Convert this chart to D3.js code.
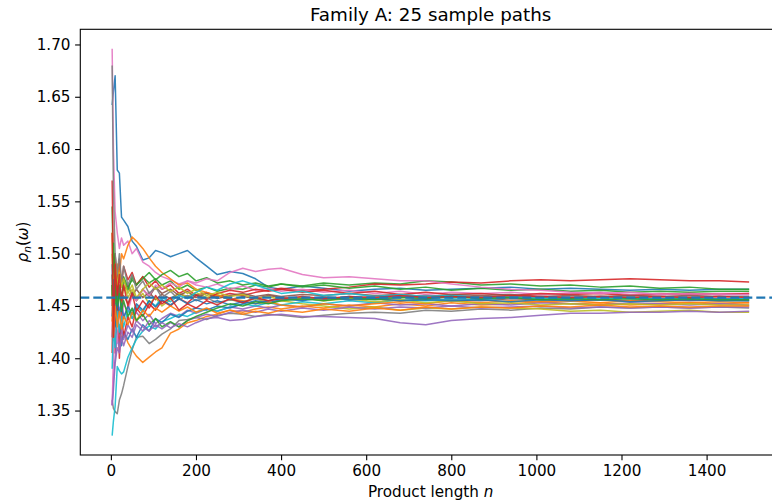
<!DOCTYPE html>
<html>
<head>
<meta charset="utf-8">
<script src="https://cdn.jsdelivr.net/npm/d3@7"></script>
<style>
  html, body { margin: 0; padding: 0; background: #fff; }
  svg { display: block; font-family: "DejaVu Sans", sans-serif; }
</style>
</head>
<body>
<svg id="chart" width="772" height="501"></svg>
<script>
// Product lengths n at which each sample path is recorded
const lengths = [3, 6, 10, 15, 20, 25, 30, 40, 50, 60, 75, 90, 105, 120, 140, 160, 180, 200, 225, 250, 280, 310, 340, 370, 400, 450, 500, 560, 620, 680, 740, 800, 870, 940, 1010, 1080, 1150, 1220, 1290, 1360, 1430, 1500];

// rho_n(omega) along 25 sample paths
const path1  = [1.642,1.655,1.670,1.580,1.577,1.535,1.532,1.526,1.512,1.507,1.494,1.496,1.503,1.501,1.497,1.500,1.503,1.496,1.488,1.480,1.483,1.481,1.476,1.468,1.466,1.469,1.467,1.464,1.466,1.467,1.465,1.466,1.467,1.468,1.466,1.467,1.466,1.465,1.466,1.465,1.466,1.466];
const path2  = [1.470,1.430,1.445,1.420,1.432,1.418,1.425,1.415,1.408,1.402,1.396,1.401,1.406,1.410,1.424,1.428,1.434,1.436,1.440,1.442,1.446,1.444,1.447,1.449,1.447,1.450,1.448,1.451,1.449,1.452,1.450,1.453,1.451,1.452,1.454,1.452,1.453,1.451,1.452,1.453,1.452,1.453];
const path3  = [1.545,1.470,1.500,1.455,1.485,1.470,1.478,1.468,1.475,1.470,1.478,1.472,1.476,1.470,1.474,1.466,1.470,1.465,1.468,1.464,1.467,1.466,1.470,1.468,1.471,1.469,1.472,1.470,1.472,1.471,1.474,1.473,1.470,1.471,1.469,1.470,1.468,1.469,1.467,1.468,1.466,1.466];
const path4  = [1.570,1.480,1.500,1.455,1.495,1.470,1.488,1.475,1.482,1.470,1.478,1.468,1.474,1.466,1.470,1.462,1.466,1.460,1.463,1.459,1.462,1.460,1.463,1.465,1.467,1.465,1.466,1.468,1.471,1.470,1.471,1.473,1.472,1.474,1.475,1.474,1.475,1.476,1.475,1.474,1.474,1.473];
const path5  = [1.420,1.470,1.440,1.460,1.445,1.452,1.440,1.448,1.438,1.444,1.436,1.442,1.433,1.438,1.443,1.440,1.446,1.443,1.447,1.445,1.449,1.447,1.450,1.448,1.451,1.449,1.452,1.450,1.453,1.451,1.452,1.450,1.452,1.451,1.453,1.452,1.451,1.453,1.452,1.451,1.452,1.451];
const path6  = [1.450,1.490,1.460,1.480,1.462,1.474,1.465,1.470,1.460,1.466,1.458,1.463,1.456,1.461,1.457,1.462,1.458,1.461,1.457,1.460,1.456,1.459,1.457,1.460,1.458,1.456,1.458,1.456,1.457,1.455,1.457,1.456,1.455,1.457,1.456,1.455,1.456,1.455,1.456,1.455,1.456,1.455];
const path7  = [1.696,1.600,1.540,1.520,1.505,1.515,1.508,1.512,1.500,1.505,1.492,1.488,1.482,1.478,1.475,1.471,1.474,1.470,1.468,1.471,1.466,1.469,1.465,1.467,1.464,1.466,1.463,1.465,1.462,1.464,1.461,1.463,1.462,1.463,1.461,1.462,1.463,1.461,1.462,1.461,1.462,1.462];
const path8  = [1.360,1.352,1.349,1.347,1.360,1.366,1.374,1.392,1.408,1.420,1.421,1.414,1.418,1.423,1.428,1.436,1.437,1.439,1.437,1.441,1.443,1.442,1.440,1.442,1.441,1.439,1.441,1.443,1.444,1.443,1.446,1.445,1.447,1.446,1.448,1.447,1.449,1.448,1.449,1.448,1.449,1.448];
const path9  = [1.520,1.450,1.480,1.440,1.465,1.450,1.470,1.458,1.466,1.455,1.462,1.452,1.458,1.450,1.456,1.462,1.459,1.463,1.458,1.461,1.456,1.454,1.457,1.453,1.455,1.452,1.450,1.447,1.449,1.446,1.448,1.447,1.449,1.448,1.447,1.445,1.446,1.444,1.445,1.446,1.444,1.444];
const path10 = [1.326,1.340,1.354,1.392,1.388,1.385,1.387,1.401,1.410,1.418,1.426,1.431,1.428,1.435,1.438,1.442,1.440,1.444,1.447,1.445,1.449,1.452,1.450,1.453,1.451,1.454,1.452,1.455,1.453,1.456,1.455,1.457,1.456,1.458,1.457,1.456,1.458,1.457,1.456,1.457,1.456,1.456];
const path11 = [1.490,1.420,1.450,1.415,1.430,1.412,1.425,1.418,1.428,1.420,1.432,1.426,1.438,1.434,1.442,1.439,1.445,1.448,1.446,1.450,1.448,1.452,1.455,1.453,1.456,1.458,1.456,1.459,1.457,1.459,1.458,1.460,1.458,1.459,1.458,1.457,1.459,1.458,1.457,1.458,1.457,1.457];
const path12 = [1.435,1.470,1.455,1.490,1.478,1.500,1.495,1.508,1.516,1.512,1.505,1.496,1.488,1.482,1.476,1.470,1.472,1.466,1.463,1.460,1.457,1.455,1.452,1.454,1.451,1.449,1.452,1.450,1.452,1.454,1.452,1.455,1.453,1.455,1.454,1.455,1.453,1.455,1.454,1.453,1.454,1.453];
const path13 = [1.470,1.430,1.460,1.445,1.470,1.458,1.475,1.465,1.478,1.470,1.476,1.482,1.475,1.480,1.484,1.478,1.481,1.474,1.477,1.472,1.474,1.470,1.472,1.469,1.471,1.468,1.470,1.467,1.469,1.466,1.468,1.465,1.467,1.465,1.466,1.464,1.465,1.463,1.464,1.463,1.464,1.464];
const path14 = [1.405,1.490,1.405,1.470,1.400,1.445,1.420,1.440,1.430,1.448,1.440,1.452,1.446,1.455,1.450,1.457,1.453,1.460,1.456,1.462,1.465,1.463,1.466,1.464,1.466,1.463,1.465,1.462,1.464,1.461,1.463,1.461,1.462,1.460,1.462,1.461,1.462,1.460,1.461,1.462,1.461,1.462];
const path15 = [1.355,1.380,1.400,1.420,1.410,1.428,1.418,1.432,1.425,1.436,1.430,1.426,1.432,1.428,1.434,1.430,1.436,1.439,1.442,1.440,1.444,1.446,1.444,1.447,1.445,1.448,1.446,1.449,1.447,1.449,1.448,1.450,1.448,1.449,1.450,1.448,1.449,1.448,1.449,1.448,1.449,1.449];
const path16 = [1.480,1.440,1.470,1.450,1.466,1.448,1.460,1.452,1.463,1.455,1.466,1.459,1.468,1.462,1.466,1.460,1.464,1.458,1.462,1.457,1.460,1.462,1.459,1.461,1.459,1.461,1.460,1.462,1.460,1.461,1.459,1.461,1.460,1.461,1.459,1.460,1.459,1.460,1.459,1.460,1.459,1.459];
const path17 = [1.355,1.400,1.430,1.415,1.445,1.432,1.452,1.445,1.460,1.455,1.466,1.460,1.470,1.466,1.472,1.468,1.474,1.472,1.476,1.474,1.482,1.486,1.483,1.485,1.486,1.480,1.477,1.478,1.476,1.474,1.474,1.471,1.468,1.466,1.465,1.463,1.462,1.463,1.461,1.462,1.461,1.461];
const path18 = [1.680,1.560,1.500,1.480,1.500,1.472,1.488,1.470,1.480,1.466,1.474,1.462,1.468,1.458,1.464,1.456,1.460,1.455,1.458,1.453,1.456,1.454,1.457,1.455,1.458,1.456,1.459,1.457,1.459,1.458,1.460,1.458,1.459,1.457,1.459,1.458,1.459,1.458,1.459,1.458,1.459,1.459];
const path19 = [1.500,1.460,1.490,1.470,1.482,1.468,1.476,1.462,1.470,1.458,1.466,1.472,1.466,1.470,1.464,1.468,1.462,1.466,1.460,1.463,1.459,1.461,1.457,1.459,1.456,1.458,1.455,1.457,1.454,1.456,1.453,1.455,1.452,1.453,1.451,1.452,1.451,1.452,1.451,1.452,1.451,1.451];
const path20 = [1.390,1.430,1.410,1.445,1.425,1.440,1.430,1.446,1.438,1.450,1.444,1.455,1.450,1.458,1.454,1.460,1.457,1.463,1.468,1.465,1.471,1.474,1.470,1.466,1.462,1.464,1.460,1.462,1.459,1.461,1.459,1.460,1.458,1.459,1.457,1.458,1.457,1.458,1.456,1.457,1.456,1.457];
const path21 = [1.440,1.475,1.430,1.460,1.440,1.452,1.438,1.450,1.442,1.452,1.446,1.455,1.449,1.456,1.451,1.457,1.452,1.456,1.452,1.455,1.451,1.454,1.452,1.455,1.457,1.455,1.458,1.456,1.457,1.455,1.456,1.455,1.456,1.454,1.456,1.455,1.456,1.454,1.455,1.456,1.455,1.455];
const path22 = [1.460,1.420,1.450,1.430,1.445,1.428,1.440,1.432,1.444,1.436,1.446,1.440,1.448,1.444,1.450,1.445,1.449,1.444,1.448,1.443,1.446,1.442,1.445,1.443,1.446,1.444,1.447,1.445,1.448,1.446,1.449,1.447,1.449,1.448,1.450,1.449,1.451,1.449,1.450,1.449,1.450,1.450];
const path23 = [1.460,1.510,1.470,1.450,1.462,1.445,1.455,1.440,1.448,1.436,1.442,1.432,1.438,1.430,1.435,1.430,1.436,1.440,1.444,1.448,1.452,1.450,1.454,1.452,1.455,1.457,1.455,1.458,1.456,1.458,1.457,1.459,1.457,1.458,1.456,1.457,1.456,1.457,1.456,1.457,1.456,1.456];
const path24 = [1.520,1.420,1.490,1.460,1.480,1.455,1.470,1.450,1.462,1.445,1.455,1.448,1.460,1.452,1.458,1.446,1.452,1.448,1.455,1.451,1.457,1.453,1.458,1.455,1.457,1.459,1.457,1.459,1.458,1.460,1.458,1.459,1.458,1.460,1.459,1.458,1.459,1.458,1.459,1.458,1.459,1.458];
const path25 = [1.355,1.370,1.395,1.410,1.405,1.420,1.412,1.425,1.420,1.432,1.426,1.436,1.430,1.434,1.429,1.433,1.430,1.434,1.438,1.439,1.436,1.437,1.440,1.441,1.442,1.440,1.440,1.439,1.438,1.434,1.432,1.436,1.438,1.439,1.441,1.443,1.443,1.444,1.444,1.445,1.444,1.445];

const paths = [path1, path2, path3, path4, path5, path6, path7, path8, path9, path10,
               path11, path12, path13, path14, path15, path16, path17, path18, path19, path20,
               path21, path22, path23, path24, path25];

// Limiting value shown as the dashed reference line
const limitValue = 1.458;

const xTicks = [0, 200, 400, 600, 800, 1000, 1200, 1400];
const yTicks = [1.35, 1.40, 1.45, 1.50, 1.55, 1.60, 1.65, 1.70];

const palette = ["#1f77b4", "#ff7f0e", "#2ca02c", "#d62728", "#9467bd",
                 "#8c564b", "#e377c2", "#7f7f7f", "#bcbd22", "#17becf"];

// ---- layout ----
const svg = d3.select("#chart");
const plot = { left: 80.3, top: 29.3, right: 781, bottom: 455 };
const tickFont = 15.2;

// 5% padding around the data range on both axes
function padded(lo, hi) {
  const m = (hi - lo) * 0.05;
  return [lo - m, hi + m];
}
const xExt = d3.extent(lengths);
const yExt = [d3.min(paths, p => d3.min(p)), d3.max(paths, p => d3.max(p))];

const x = d3.scaleLinear().domain(padded(xExt[0], xExt[1])).range([plot.left, plot.right]);
const y = d3.scaleLinear().domain(padded(yExt[0], yExt[1])).range([plot.bottom, plot.top]);

svg.append("defs").append("clipPath").attr("id", "plotClip")
  .append("rect")
  .attr("x", plot.left).attr("y", plot.top)
  .attr("width", plot.right - plot.left).attr("height", plot.bottom - plot.top);

const body = svg.append("g").attr("clip-path", "url(#plotClip)");

const line = d3.line()
  .x((d, i) => x(lengths[i]))
  .y(d => y(d));

body.selectAll("path.sample")
  .data(paths)
  .join("path")
  .attr("class", "sample")
  .attr("fill", "none")
  .attr("stroke", (d, i) => palette[i % palette.length])
  .attr("stroke-width", 1.5)
  .attr("stroke-opacity", 0.9)
  .attr("stroke-linejoin", "round")
  .attr("d", line);

body.append("line")
  .attr("x1", plot.left).attr("x2", plot.right)
  .attr("y1", y(limitValue)).attr("y2", y(limitValue))
  .attr("stroke", palette[0])
  .attr("stroke-width", 2.3)
  .attr("stroke-dasharray", "9,4");

// ---- axes ----
const tickLen = 5.2;
const xAxis = d3.axisBottom(x).tickValues(xTicks).tickFormat(d3.format("d"))
  .tickSize(tickLen).tickPadding(4.6).tickSizeOuter(0);
const yAxis = d3.axisLeft(y).tickValues(yTicks).tickFormat(d3.format(".2f"))
  .tickSize(tickLen).tickPadding(4.6).tickSizeOuter(0);

const gx = svg.append("g").attr("transform", `translate(0,${plot.bottom})`).call(xAxis);
const gy = svg.append("g").attr("transform", `translate(${plot.left},0)`).call(yAxis);

[gx, gy].forEach(g => {
  g.select(".domain").remove();
  g.selectAll(".tick line").attr("stroke", "#000").attr("stroke-width", 1.1);
  g.selectAll(".tick text").attr("fill", "#000")
    .style("font-family", "DejaVu Sans, sans-serif").style("font-size", tickFont + "px");
});

// spines
svg.append("rect")
  .attr("x", plot.left).attr("y", plot.top)
  .attr("width", plot.right - plot.left).attr("height", plot.bottom - plot.top)
  .attr("fill", "none").attr("stroke", "#000").attr("stroke-width", 1.1);

// ---- text ----
svg.append("text")
  .attr("x", (plot.left + plot.right) / 2).attr("y", 21)
  .attr("text-anchor", "middle")
  .style("font-size", "18.3px")
  .text("Family A: 25 sample paths");

const xl = svg.append("text")
  .attr("x", (plot.left + plot.right) / 2).attr("y", 497)
  .attr("text-anchor", "middle")
  .style("font-size", tickFont + "px");
xl.append("tspan").text("Product length ");
xl.append("tspan").style("font-style", "italic").text("n");

const yl = svg.append("text")
  .attr("transform", "translate(27.5,242) rotate(-90)")
  .attr("text-anchor", "middle")
  .style("font-size", tickFont + "px");
yl.append("tspan").style("font-style", "italic").text("ρ");
yl.append("tspan").style("font-style", "italic").style("font-size", "10.6px").attr("dy", 3.3).text("n");
yl.append("tspan").attr("dy", -3.3).text("(");
yl.append("tspan").style("font-style", "italic").text("ω");
yl.append("tspan").text(")");
</script>
</body>
</html>
